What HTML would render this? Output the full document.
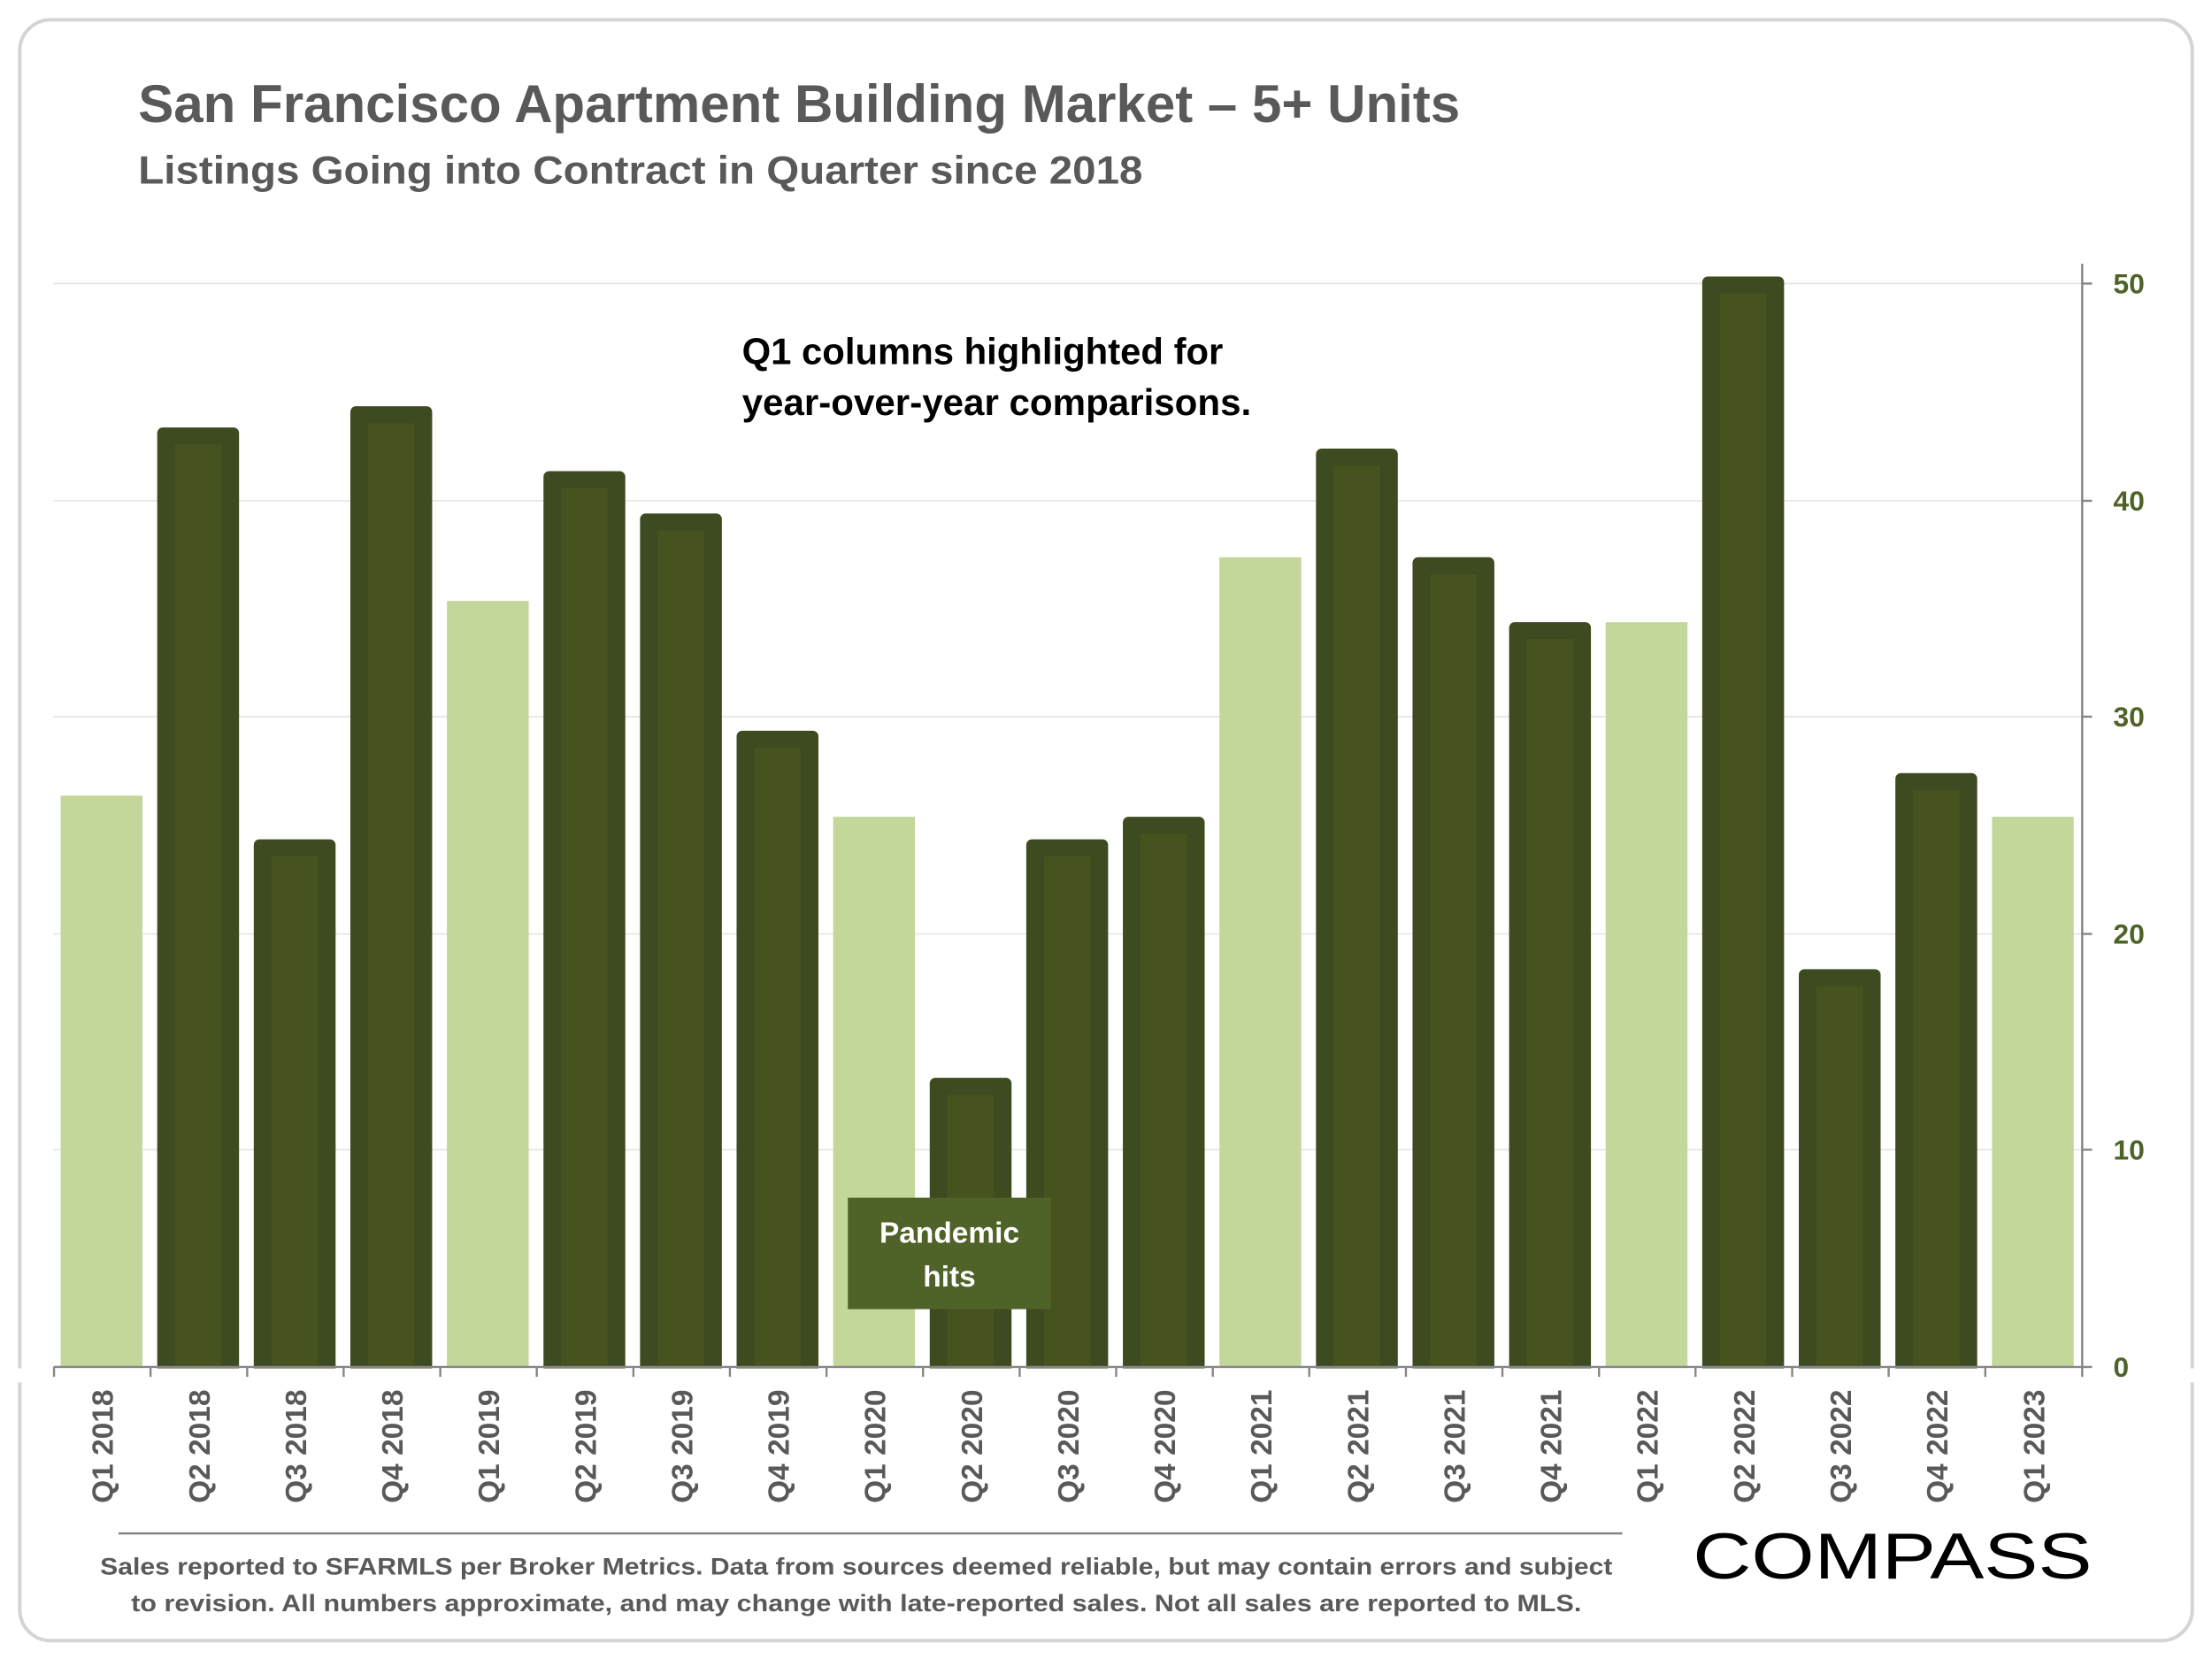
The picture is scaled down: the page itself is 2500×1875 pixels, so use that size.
<!DOCTYPE html>
<html><head><meta charset="utf-8"><style>html,body{margin:0;padding:0;background:#fff}svg{display:block}</style></head>
<body>
<svg width="2500" height="1875" viewBox="0 0 1568 1176" xmlns="http://www.w3.org/2000/svg" font-family="Liberation Sans, sans-serif" font-weight="bold">
<rect x="0" y="0" width="1568" height="1176" fill="#fff"/>
<rect x="14" y="14" width="1540" height="1149" rx="22" fill="#fff" stroke="#d4d4d4" stroke-width="2.5"/>
<text x="98" y="86.5" font-size="38" fill="#595959" textLength="937" lengthAdjust="spacingAndGlyphs">San Francisco Apartment Building Market – 5+ Units</text>
<text x="98" y="130" font-size="28" fill="#595959" textLength="712" lengthAdjust="spacingAndGlyphs">Listings Going into Contract in Quarter since 2018</text>
<g stroke="#e3e3e3" stroke-width="1">
<line x1="38" y1="201" x2="1476" y2="201"/><line x1="38" y1="355" x2="1476" y2="355"/><line x1="38" y1="508" x2="1476" y2="508"/><line x1="38" y1="662" x2="1476" y2="662"/><line x1="38" y1="815" x2="1476" y2="815"/>
</g>
<g fill="#c4d79b">
<rect x="43" y="564" width="58" height="405"/>
<rect x="316.8" y="426" width="58" height="543"/>
<rect x="590.6" y="579" width="58" height="390"/>
<rect x="864.4" y="395" width="58" height="574"/>
<rect x="1138.2" y="441" width="58" height="528"/>
<rect x="1412" y="579" width="58" height="390"/>
</g>
<g>
<g fill="#3e4a1f">
<rect x="111.45" y="303" width="58" height="672" rx="4"/>
<rect x="179.9" y="595" width="58" height="380" rx="4"/>
<rect x="248.35" y="288" width="58" height="687" rx="4"/>
<rect x="385.25" y="334" width="58" height="641" rx="4"/>
<rect x="453.7" y="364" width="58" height="611" rx="4"/>
<rect x="522.15" y="518" width="58" height="457" rx="4"/>
<rect x="659.05" y="764" width="58" height="211" rx="4"/>
<rect x="727.5" y="595" width="58" height="380" rx="4"/>
<rect x="795.95" y="579" width="58" height="396" rx="4"/>
<rect x="932.85" y="318" width="58" height="657" rx="4"/>
<rect x="1001.3" y="395" width="58" height="580" rx="4"/>
<rect x="1069.75" y="441" width="58" height="534" rx="4"/>
<rect x="1206.65" y="196" width="58" height="779" rx="4"/>
<rect x="1275.1" y="687" width="58" height="288" rx="4"/>
<rect x="1343.55" y="548" width="58" height="427" rx="4"/>
</g>
<g fill="#46531f">
<rect x="123.95" y="315" width="33" height="654"/>
<rect x="192.4" y="607" width="33" height="362"/>
<rect x="260.85" y="300" width="33" height="669"/>
<rect x="397.75" y="346" width="33" height="623"/>
<rect x="466.2" y="376" width="33" height="593"/>
<rect x="534.65" y="530" width="33" height="439"/>
<rect x="671.55" y="776" width="33" height="193"/>
<rect x="740" y="607" width="33" height="362"/>
<rect x="808.45" y="591" width="33" height="378"/>
<rect x="945.35" y="330" width="33" height="639"/>
<rect x="1013.8" y="407" width="33" height="562"/>
<rect x="1082.25" y="453" width="33" height="516"/>
<rect x="1219.15" y="208" width="33" height="761"/>
<rect x="1287.6" y="699" width="33" height="270"/>
<rect x="1356.05" y="560" width="33" height="409"/>
</g>
</g>
<rect x="0" y="970" width="1568" height="10" fill="#fff"/>
<rect x="601" y="849" width="144" height="79" fill="#4f6228"/>
<text x="673" y="881" font-size="21" fill="#fff" text-anchor="middle">Pandemic</text>
<text x="673" y="912" font-size="21" fill="#fff" text-anchor="middle">hits</text>
<text x="526" y="258" font-size="26" fill="#000" textLength="341" lengthAdjust="spacingAndGlyphs">Q1 columns highlighted for</text>
<text x="526" y="294" font-size="26" fill="#000" textLength="361" lengthAdjust="spacingAndGlyphs">year-over-year comparisons.</text>
<g stroke="#868686" stroke-width="1.5" fill="none">
<line x1="38" y1="969" x2="1476" y2="969"/>
<line x1="1476" y1="187" x2="1476" y2="976"/>
<line x1="1476" y1="201" x2="1483" y2="201"/><line x1="1476" y1="355" x2="1483" y2="355"/><line x1="1476" y1="508" x2="1483" y2="508"/><line x1="1476" y1="662" x2="1483" y2="662"/><line x1="1476" y1="815" x2="1483" y2="815"/><line x1="1476" y1="969" x2="1483" y2="969"/>
<path d="M38.3 969v7M106.7 969v7M175.2 969v7M243.6 969v7M312.1 969v7M380.5 969v7M449 969v7M517.4 969v7M585.9 969v7M654.3 969v7M722.8 969v7M791.2 969v7M859.7 969v7M928.1 969v7M996.6 969v7M1065 969v7M1133.5 969v7M1201.9 969v7M1270.4 969v7M1338.8 969v7M1407.3 969v7"/>
</g>
<g font-size="20" fill="#4f6228">
<text x="1498" y="208">50</text><text x="1498" y="362">40</text><text x="1498" y="515">30</text><text x="1498" y="669">20</text><text x="1498" y="822">10</text><text x="1498" y="976">0</text>
</g>
<g font-size="21" fill="#595959" text-anchor="end">
<text transform="translate(80,985) rotate(-90)">Q1 2018</text>
<text transform="translate(148.5,985) rotate(-90)">Q2 2018</text>
<text transform="translate(216.9,985) rotate(-90)">Q3 2018</text>
<text transform="translate(285.4,985) rotate(-90)">Q4 2018</text>
<text transform="translate(353.8,985) rotate(-90)">Q1 2019</text>
<text transform="translate(422.3,985) rotate(-90)">Q2 2019</text>
<text transform="translate(490.7,985) rotate(-90)">Q3 2019</text>
<text transform="translate(559.2,985) rotate(-90)">Q4 2019</text>
<text transform="translate(627.6,985) rotate(-90)">Q1 2020</text>
<text transform="translate(696.1,985) rotate(-90)">Q2 2020</text>
<text transform="translate(764.5,985) rotate(-90)">Q3 2020</text>
<text transform="translate(833,985) rotate(-90)">Q4 2020</text>
<text transform="translate(901.4,985) rotate(-90)">Q1 2021</text>
<text transform="translate(969.9,985) rotate(-90)">Q2 2021</text>
<text transform="translate(1038.3,985) rotate(-90)">Q3 2021</text>
<text transform="translate(1106.8,985) rotate(-90)">Q4 2021</text>
<text transform="translate(1175.2,985) rotate(-90)">Q1 2022</text>
<text transform="translate(1243.7,985) rotate(-90)">Q2 2022</text>
<text transform="translate(1312.1,985) rotate(-90)">Q3 2022</text>
<text transform="translate(1380.6,985) rotate(-90)">Q4 2022</text>
<text transform="translate(1449,985) rotate(-90)">Q1 2023</text>
</g>
<line x1="84" y1="1087" x2="1150" y2="1087" stroke="#808080" stroke-width="1.5"/>
<text x="607" y="1116" font-size="17" fill="#595959" text-anchor="middle" textLength="1072" lengthAdjust="spacingAndGlyphs">Sales reported to SFARMLS per Broker Metrics. Data from sources deemed reliable, but may contain errors and subject</text>
<text x="607" y="1142" font-size="17" fill="#595959" text-anchor="middle" textLength="1028" lengthAdjust="spacingAndGlyphs">to revision. All numbers approximate, and may change with late-reported sales. Not all sales are reported to MLS.</text>
<text x="1200" y="1119" font-size="46" font-weight="normal" fill="#000" textLength="283" lengthAdjust="spacingAndGlyphs">COMPASS</text>
</svg>
</body></html>
